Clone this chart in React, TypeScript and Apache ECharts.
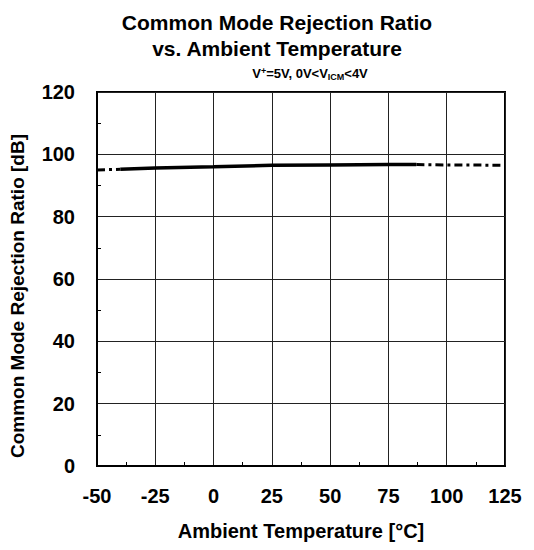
import React, { useEffect, useRef } from "react";
import * as echarts from "echarts";

const leftDashX = [-50, -40];
const leftDashY = [95.0, 95.2];
const solidX = [-40, -25, 0, 25, 50, 75, 87];
const solidY = [95.2, 95.6, 96.0, 96.5, 96.6, 96.7, 96.7];
const rightDashX = [87, 100, 125];
const rightDashY = [96.7, 96.6, 96.5];

const xTicks = { min: -50, max: 125, interval: 25 };
const yTicks = { min: 0, max: 120, interval: 20 };

const FONT = "'Liberation Sans', Arial, sans-serif";

function pairs(xs: number[], ys: number[]) {
  return xs.map((x, i) => [x, ys[i]]);
}

export default function App() {
  const ref = useRef<HTMLDivElement>(null);
  useEffect(() => {
    document.body.style.margin = "0";
    const chart = echarts.init(ref.current!, null, { renderer: "svg" });
    chart.setOption({
      animation: false,
      backgroundColor: "#fff",
      textStyle: { fontFamily: FONT },
      title: [
        {
          text: "Common Mode Rejection Ratio\nvs. Ambient Temperature",
          left: 272,
          textAlign: "center",
          top: 4,
          textStyle: { fontFamily: FONT, fontSize: 21, fontWeight: "bold", color: "#000", lineHeight: 26 },
        },
        {
          text: "V{sup|+}=5V, 0V<V{sub|ICM}<4V",
          left: 305,
          textAlign: "center",
          top: 61,
          textStyle: {
            fontFamily: FONT, fontSize: 13, fontWeight: "bold", color: "#000",
            rich: {
              sup: { fontFamily: FONT, fontSize: 9, fontWeight: "bold", color: "#000", verticalAlign: "top", padding: [0, 0, 6, 0] },
              sub: { fontFamily: FONT, fontSize: 9, fontWeight: "bold", color: "#000", verticalAlign: "bottom", padding: [6, 0, 0, 0] },
            },
          },
        },
      ],
      grid: { left: 97, right: 29, top: 92, bottom: 84, show: true, borderColor: "#000", borderWidth: 2, backgroundColor: "transparent", containLabel: false },
      xAxis: {
        type: "value",
        min: xTicks.min, max: xTicks.max, interval: xTicks.interval,
        axisLine: { show: true, onZero: false, lineStyle: { color: "#000", width: 2 } },
        axisTick: { show: false, inside: true },
        minorTick: { show: true, splitNumber: 2, length: 4, lineStyle: { color: "#000", width: 1 } },
        splitLine: { show: true, lineStyle: { color: "#222", width: 1 } },
        axisLabel: { color: "#000", fontSize: 20, fontWeight: "bold", fontFamily: FONT, margin: 20 },
        name: "Ambient Temperature [°C]",
        nameLocation: "middle",
        nameGap: 55,
        nameTextStyle: { color: "#000", fontSize: 20, fontWeight: "bold", fontFamily: FONT },
      },
      yAxis: {
        type: "value",
        min: yTicks.min, max: yTicks.max, interval: yTicks.interval,
        axisLine: { show: true, onZero: false, lineStyle: { color: "#000", width: 2 } },
        axisTick: { show: false, inside: true },
        minorTick: { show: true, splitNumber: 2, length: 4, lineStyle: { color: "#000", width: 1 } },
        splitLine: { show: true, lineStyle: { color: "#222", width: 1 } },
        axisLabel: { color: "#000", fontSize: 20, fontWeight: "bold", fontFamily: FONT, margin: 22 },
        name: "Common Mode Rejection Ratio [dB]",
        nameLocation: "middle",
        nameGap: 70,
        nameTextStyle: { color: "#000", fontSize: 19, fontWeight: "bold", fontFamily: FONT, padding: [0, 34, 0, 0] },
      },
      series: [
        {
          type: "line", data: pairs(leftDashX, leftDashY), showSymbol: false, symbol: "none",
          lineStyle: { color: "#000", width: 3, type: [8, 4, 3, 4] },
        },
        {
          type: "line", data: pairs(solidX, solidY), showSymbol: false, symbol: "none",
          lineStyle: { color: "#000", width: 3.5, type: "solid" },
        },
        {
          type: "line", data: pairs(rightDashX, rightDashY), showSymbol: false, symbol: "none",
          lineStyle: { color: "#000", width: 3, type: [8, 4, 3, 4] },
        },
      ],
    });
    return () => chart.dispose();
  }, []);
  return <div ref={ref} style={{ width: 534, height: 550 }} />;
}
